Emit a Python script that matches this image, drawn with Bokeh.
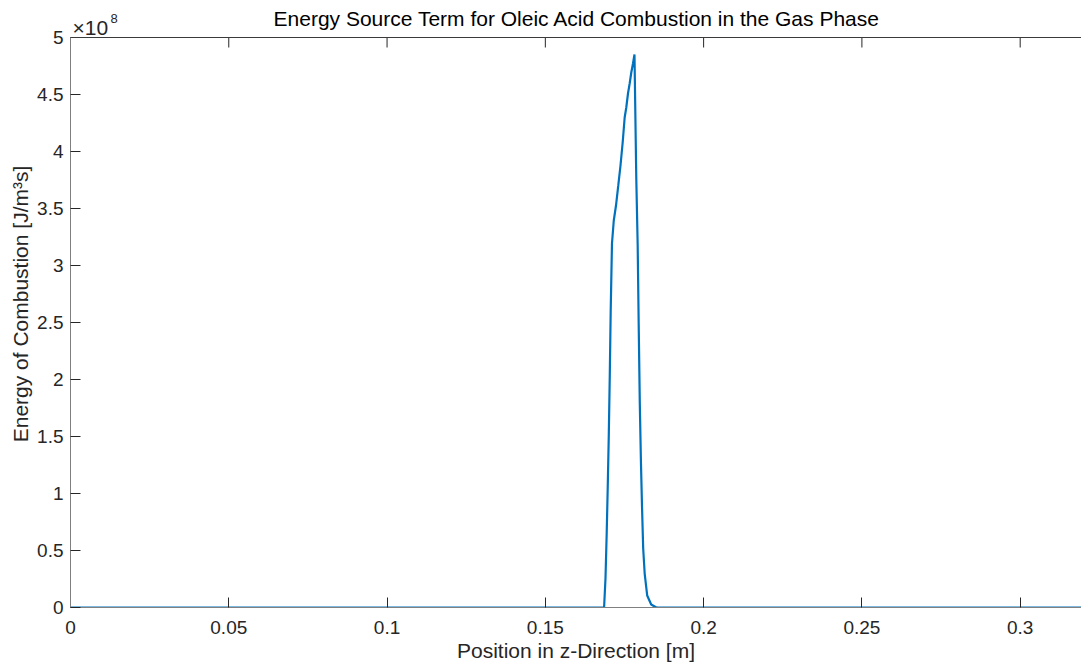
from bokeh.plotting import figure
from bokeh.models import (Range1d, LinearAxis, FixedTicker, CustomJSTickFormatter, Label, Span,
                          Title)
from bokeh.embed import file_html
from bokeh.resources import INLINE

# Energy source term along the reactor axis (gas phase, oleic acid)
position = [0.0, 0.16856, 0.16900, 0.16938, 0.16970, 0.17004, 0.17036, 0.17064,
            0.17105, 0.17162, 0.17232, 0.17304, 0.17374, 0.17443, 0.17506, 0.17557,
            0.17611, 0.17664, 0.17715, 0.17769, 0.17816, 0.17873, 0.17917, 0.17949,
            0.17984, 0.18021, 0.18053, 0.18091, 0.18138, 0.18217, 0.18344, 0.18480,
            0.18543, 0.32]
energy = [0.0, 0.0, 2.544e7, 6.491e7, 1.0439e8, 1.5088e8, 2.0439e8, 2.5904e8,
          3.1930e8, 3.3947e8, 3.5263e8, 3.7018e8, 3.8772e8, 4.0789e8, 4.2982e8, 4.3860e8,
          4.5088e8, 4.5965e8, 4.6930e8, 4.7719e8, 4.8509e8, 3.7632e8, 3.1754e8, 2.4825e8,
          1.7895e8, 1.2632e8, 8.947e7, 5.175e7, 2.982e7, 1.053e7, 2.63e6, 4.4e5,
          0.0, 0.0]

x_ticks = [0.0, 0.05, 0.1, 0.15, 0.2, 0.25, 0.3]
y_ticks = [0.0, 0.5e8, 1.0e8, 1.5e8, 2.0e8, 2.5e8, 3.0e8, 3.5e8, 4.0e8, 4.5e8, 5.0e8]
y_max = 5e8

title_text = "Energy Source Term for Oleic Acid Combustion in the Gas Phase"
x_label = "Position in z-Direction [m]"
y_label = "Energy of Combustion [J/m³s]"

FONT = "Liberation Sans"
TEXT = "#262626"
BLUE = "#0072BD"

# pixel layout: axes box 570 px tall, 37 px of headroom above it for the title
BOX_H, HEAD = 570, 37
px = y_max / BOX_H
W, H = 1081, 665

p = figure(width=W, height=H, output_backend="svg", toolbar_location=None,
           x_range=Range1d(0, 0.31937), y_range=Range1d(0, y_max + HEAD * px),
           min_border_left=70, min_border_right=0, min_border_top=0,
           min_border_bottom=58, x_axis_type=None, y_axis_type=None)
p.outline_line_color = None
p.grid.visible = False
p.background_fill_color = "white"
p.border_fill_color = "white"

def style(ax):
    ax.major_tick_in = 10
    ax.major_tick_out = 0
    ax.minor_tick_line_color = None
    ax.major_tick_line_color = "#262626"
    ax.axis_line_color = "#808080"
    ax.major_label_text_font = FONT
    ax.major_label_text_font_size = "19px"
    ax.major_label_text_color = TEXT
    ax.axis_label_text_font = FONT
    ax.axis_label_text_font_size = "21px"
    ax.axis_label_text_font_style = "normal"
    ax.axis_label_text_color = TEXT

xfmt = CustomJSTickFormatter(code="return String(tick);")
yfmt = CustomJSTickFormatter(code="return String(tick / 1e8);")

xaxis = LinearAxis(ticker=FixedTicker(ticks=x_ticks), formatter=xfmt, axis_label=x_label)
style(xaxis)
xaxis.major_label_standoff = 13
xaxis.axis_label_standoff = 2
p.add_layout(xaxis, "below")

yaxis = LinearAxis(ticker=FixedTicker(ticks=y_ticks), formatter=yfmt, bounds=(0, y_max))
style(yaxis)
yaxis.major_label_standoff = 7
p.add_layout(yaxis, "left")

# energy axis name, centred on the axes box rather than the whole frame
p.add_layout(Title(text=y_label, align="center", offset=-HEAD, standoff=6,
                   text_font=FONT, text_font_size="21px", text_font_style="normal",
                   text_color=TEXT), "left")

# top edge of the axes box with inward ticks
p.add_layout(Span(location=y_max, dimension="width", line_color="#3a3a3a", line_width=1))
p.segment(x0=x_ticks, y0=[y_max] * len(x_ticks), x1=x_ticks,
          y1=[y_max - 10 * px] * len(x_ticks), line_color="#262626", line_width=1)

p.line(position, energy, line_color=BLUE, line_width=2.2)

p.add_layout(Label(x=0.16, y=y_max, y_offset=19, text=title_text, text_align="center",
                   text_baseline="alphabetic", text_font=FONT, text_font_size="21px",
                   text_color="#000000"))
# scale factor of the energy axis
p.add_layout(Label(x=0.0, y=y_max, x_offset=2, y_offset=10, text="×10", text_align="left",
                   text_baseline="alphabetic", text_font=FONT, text_font_size="21px",
                   text_color=TEXT))
p.add_layout(Label(x=0.0, y=y_max, x_offset=40, y_offset=19, text="8", text_align="left",
                   text_baseline="alphabetic", text_font=FONT, text_font_size="13px",
                   text_color=TEXT))

open("out.html", "w").write(file_html(p, INLINE))
